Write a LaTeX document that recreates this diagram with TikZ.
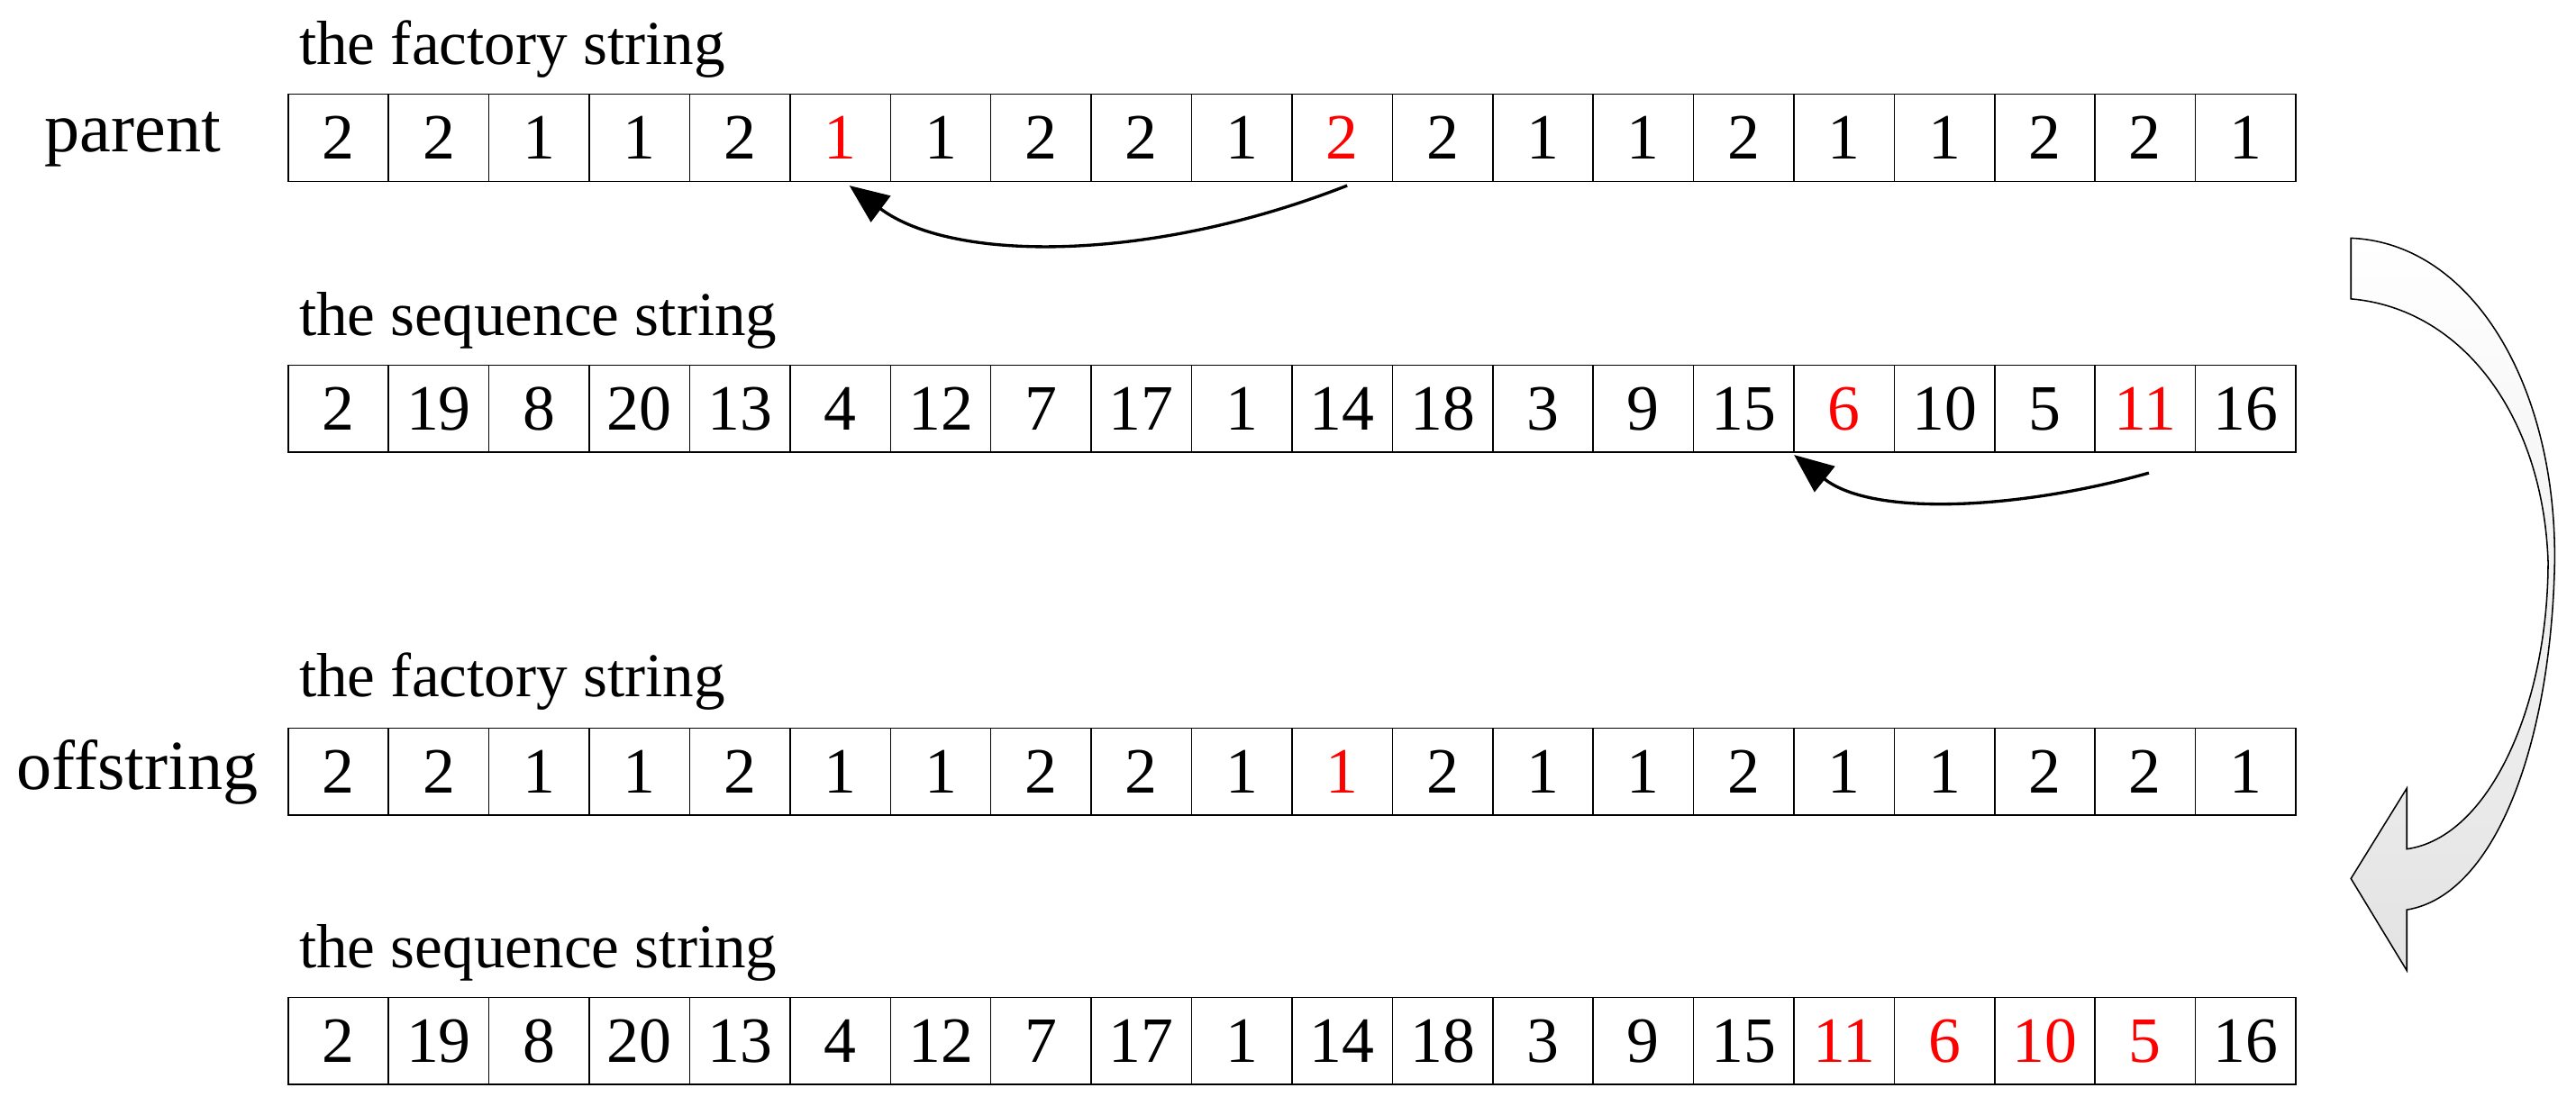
\documentclass[tikz,border=0pt]{standalone}
\usepackage{fontspec}
\setmainfont{Liberation Serif}
\usetikzlibrary{arrows.meta}
\begin{document}
\begin{tikzpicture}[x=0.05cm,y=-0.05cm,
  cell/.style={draw,line width=1.2pt,minimum width=3.055cm,minimum height=2.65cm,anchor=north west,inner sep=0pt,font=\fontsize{56}{60}\selectfont},
  lbl/.style={anchor=west,inner sep=0pt,font=\fontsize{54}{60}\selectfont},
  side/.style={anchor=west,inner sep=0pt,font=\fontsize{61}{66}\selectfont},
  arr/.style={line width=2.6pt,-{Triangle[length=34pt,width=28pt]}}]
\useasboundingbox (0,0) rectangle (1568,673);
\newcommand{\strow}[3]{%
  \foreach \v [count=\i] in {#2} {%
    \node[cell] (#1\i) at ({175+(\i-1)*61.1},#3) {\v};}}
\strow{a}{2,2,1,1,2,{\color{red}1},1,2,2,1,{\color{red}2},2,1,1,2,1,1,2,2,1}{57}
\strow{b}{2,19,8,20,13,4,12,7,17,1,14,18,3,9,15,{\color{red}6},10,5,{\color{red}11},16}{222}
\strow{c}{2,2,1,1,2,1,1,2,2,1,{\color{red}1},2,1,1,2,1,1,2,2,1}{443}
\strow{d}{2,19,8,20,13,4,12,7,17,1,14,18,3,9,15,{\color{red}11},{\color{red}6},{\color{red}10},{\color{red}5},16}{607}
\node[lbl] (t1) at (182,30) {the factory string};
\node[lbl] (t2) at (182,195) {the sequence string};
\node[lbl] (t3) at (182,415) {the factory string};
\node[lbl] (t4) at (182,580) {the sequence string};
\node[side] (p) at (27,85) {parent};
\node[side] (o) at (10,470) {offstring};
\coordinate (s1) at (820,113); \coordinate (e1) at (517,113);
\draw[arr] (s1) .. controls (700,160) and (580,160) .. (e1);
\coordinate (s2) at (1308,288); \coordinate (e2) at (1092,277);
\draw[arr] (s2) .. controls (1230,310) and (1140,315) .. (e2);
\shade[draw,line width=1.2pt,top color=white,middle color=white,bottom color=gray!22]
 (1431,145) .. controls (1505,148) and (1556,235) .. (1555,342)
 .. controls (1553,450) and (1520,545) .. (1465,554) -- (1465,591) -- (1431,535) -- (1465,480) -- (1465,517)
 .. controls (1515,510) and (1551,430) .. (1551,342)
 .. controls (1548,255) and (1500,188) .. (1431,182) -- cycle;
\end{tikzpicture}
\end{document}
